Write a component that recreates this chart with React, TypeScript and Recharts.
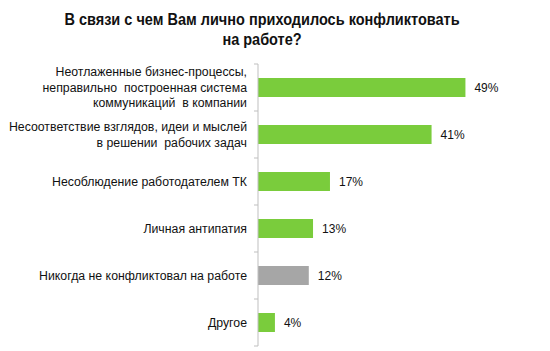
import { BarChart, Bar, XAxis, YAxis, Cell, LabelList } from 'recharts';

const categories = [
  'Неотлаженные бизнес-процессы,\nнеправильно  построенная система\nкоммуникаций  в компании',
  'Несоответствие взглядов, идеи и мыслей\nв решении  рабочих задач',
  'Несоблюдение работодателем ТК',
  'Личная антипатия',
  'Никогда не конфликтовал на работе',
  'Другое',
];
const values = [49, 41, 17, 13, 12, 4];
const barColors = ['#7acc3c', '#7acc3c', '#7acc3c', '#7acc3c', '#a6a6a6', '#7acc3c'];

const data = categories.map((name, i) => ({ name, value: values[i] }));

const CHART_TOP = 64;
const CHART_BOTTOM = 5;
const CHART_H = 351;
const BAND = (CHART_H - CHART_TOP - CHART_BOTTOM) / categories.length;

function CategoryTick(props: any) {
  const { x, y, payload, index } = props;
  const lines = String(payload.value).split('\n');
  const lh = 15.5;
  const start = y - ((lines.length - 1) * lh) / 2;
  return (
    <g>
      <line x1={x - 4} x2={x} y1={y - BAND / 2} y2={y - BAND / 2} stroke="#bfbfbf" />
      {index === categories.length - 1 && (
        <line x1={x - 4} x2={x} y1={y + BAND / 2} y2={y + BAND / 2} stroke="#bfbfbf" />
      )}
      <text
        x={x - 11}
        y={start}
        textAnchor="end"
        fill="#111"
        fontSize={12.3}
        fontFamily="'Liberation Sans', Arial, sans-serif"
        style={{ whiteSpace: 'pre' }}
      >
        {lines.map((l, i) => (
          <tspan key={i} x={x - 11} dy={i === 0 ? '0.35em' : lh}>
            {l}
          </tspan>
        ))}
      </text>
    </g>
  );
}

export default function App() {
  return (
    <div style={{ position: 'absolute', left: 0, top: 0, width: 550, height: 351, background: '#fff' }}>
      <div
        style={{
          position: 'absolute',
          left: 0,
          top: 9,
          width: 524,
          textAlign: 'center',
          fontFamily: "'Liberation Sans', Arial, sans-serif",
          fontWeight: 'bold',
          fontSize: 14.5,
          lineHeight: '18px',
          color: '#111',
          transform: 'scaleY(1.12)',
          transformOrigin: 'top',
        }}
      >
        В связи с чем Вам лично приходилось конфликтовать
        <br />
        на работе?
      </div>
      <div style={{ position: 'absolute', left: 0, top: 0 }}>
        <BarChart
          width={550}
          height={CHART_H}
          data={data}
          layout="vertical"
          margin={{ top: CHART_TOP, right: 38, bottom: CHART_BOTTOM, left: 0 }}
        >
          <XAxis type="number" domain={[0, 60]} hide />
          <YAxis
            type="category"
            dataKey="name"
            width={258}
            axisLine={{ stroke: '#bfbfbf' }}
            tickLine={false}
            tickSize={0}
            tickMargin={0}
            tick={<CategoryTick />}
            interval={0}
          />
          <Bar dataKey="value" barSize={19} isAnimationActive={false}>
            {data.map((d, i) => (
              <Cell key={d.name} fill={barColors[i]} />
            ))}
            <LabelList
              dataKey="value"
              position="right"
              offset={9}
              formatter={(v: any) => `${v}%`}
              fill="#111"
              fontSize={12}
              fontFamily="'Liberation Sans', Arial, sans-serif"
            />
          </Bar>
        </BarChart>
      </div>
    </div>
  );
}
